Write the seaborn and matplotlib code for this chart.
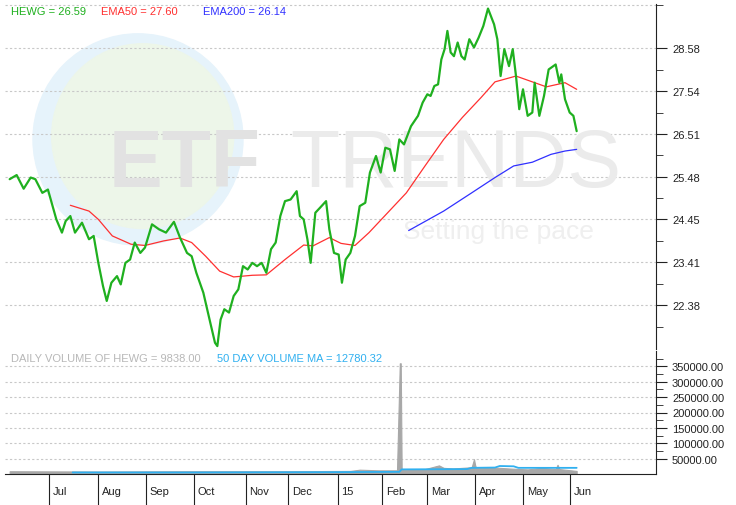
import numpy as np
import matplotlib
matplotlib.use('Agg')
from matplotlib import pyplot as plt
from matplotlib.patches import Ellipse
import seaborn as sns

sns.set_style('white')
plt.rcParams['font.family'] = ['Liberation Sans', 'DejaVu Sans']

# time axis in chart units (month ticks below)
price_t = [10, 25, 40, 55, 65, 80, 92, 100, 110, 122, 130, 140, 150, 165, 180, 190, 200, 210, 218, 228,
           240, 248, 258, 268, 278, 290, 300, 315, 330, 345, 362, 375, 390, 400, 410, 425, 440, 450, 455, 462,
           470, 480, 490, 500, 510, 520, 530, 540, 550, 560, 570, 580, 590, 600, 612, 625, 632, 640, 648, 655,
           665, 675, 688, 695, 705, 715, 722, 730, 740, 750, 760, 772, 782, 795, 805, 815, 825, 835, 845, 855,
           870, 885, 895, 905, 912, 920, 928, 935, 942, 948, 955, 962, 970, 978, 985, 995, 1005, 1015, 1025, 1035,
           1048, 1055, 1062, 1070, 1080, 1088, 1095, 1102, 1110, 1120, 1130, 1135, 1145, 1155, 1165, 1180, 1188, 1192, 1200, 1210,
           1218, 1225]
price = [25.42, 25.52, 25.19, 25.46, 25.42, 25.09, 25.17, 24.85, 24.45, 24.13, 24.41, 24.53, 24.13, 24.37, 23.97, 24.05, 23.40, 22.84, 22.48, 22.92,
         23.08, 22.88, 23.40, 23.48, 23.89, 23.64, 23.77, 24.33, 24.21, 24.13, 24.39, 24.01, 23.64, 23.56, 23.16, 22.68, 21.95, 21.47, 21.39, 22.03,
         22.28, 22.20, 22.60, 22.76, 23.32, 23.24, 23.40, 23.32, 23.40, 23.16, 23.73, 23.89, 24.53, 24.89, 24.93, 25.13, 24.53, 24.45, 23.97, 23.40,
         24.61, 24.73, 24.89, 24.21, 23.64, 23.60, 22.92, 23.48, 23.64, 24.05, 24.77, 24.85, 25.58, 25.98, 25.58, 26.18, 26.14, 25.62, 26.38, 26.26,
         26.70, 26.95, 27.27, 27.47, 27.43, 27.67, 27.71, 28.31, 28.56, 29.00, 28.48, 28.39, 28.72, 28.39, 28.31, 28.80, 28.60, 28.84, 29.12, 29.54,
         29.16, 28.80, 27.91, 28.56, 28.15, 28.56, 27.91, 27.11, 27.59, 26.95, 27.03, 27.75, 26.95, 27.43, 28.07, 28.19, 27.75, 27.95, 27.35, 27.03,
         26.95, 26.58]

ema50_t = [140, 180, 200, 230, 270, 300, 340, 375, 400, 430, 460, 490, 530, 560, 600, 640, 660, 695, 720, 750,
           780, 820, 860, 900, 940, 980, 1020, 1050, 1095, 1130, 1160, 1200, 1225]
ema50 = [24.79, 24.65, 24.45, 24.05, 23.85, 23.82, 23.93, 24.00, 23.89, 23.56, 23.20, 23.06, 23.10, 23.11, 23.48, 23.83, 23.81, 24.01, 23.87, 23.82,
         24.13, 24.61, 25.09, 25.74, 26.38, 26.91, 27.39, 27.77, 27.91, 27.77, 27.65, 27.75, 27.59]

ema200_t = [865, 940, 1000, 1050, 1090, 1130, 1170, 1200, 1225]
ema200 = [24.18, 24.65, 25.09, 25.46, 25.74, 25.83, 26.02, 26.10, 26.14]

vol_t = [10, 200, 400, 600, 740, 760, 800, 840, 846, 848, 850, 856, 900, 930, 940, 960, 1000, 1005, 1008, 1012,
         1040, 1080, 1120, 1150, 1180, 1184, 1188, 1225]
volume = [9000, 8000, 9000, 9000, 10000, 14000, 12000, 12000, 360000, 360000, 15000, 14000, 16000, 28000, 20000, 18000, 22000, 48000, 25000, 20000,
          22000, 18000, 15000, 20000, 16000, 30000, 16000, 10000]
vma_t = [145, 400, 700, 845, 850, 990, 1000, 1050, 1060, 1090, 1100, 1225]
vma = [5000, 5000, 6000, 7000, 15000, 16000, 20000, 21000, 26000, 25000, 20000, 20000]

month_pos = [94, 200, 302, 405, 516, 607, 713, 808, 905, 1008, 1110, 1210]
month_lbl = ['Jul', 'Aug', 'Sep', 'Oct', 'Nov', 'Dec', '15', 'Feb', 'Mar', 'Apr', 'May', 'Jun']
price_ticks = [22.38, 23.41, 24.45, 25.48, 26.51, 27.54, 28.58]
vol_ticks = [50000, 100000, 150000, 200000, 250000, 300000, 350000]

fig = plt.figure(figsize=(7.36, 5.06), dpi=100)
W, H = 736, 506
ax = fig.add_axes([5 / W, 1 - 350 / H, 651 / W, 345 / H])
axv = fig.add_axes([5 / W, 1 - 475 / H, 651 / W, 123 / H], sharex=ax)
grid_kw = dict(color='#c8c8c8', ls=(0, (2, 2)), lw=0.8)

# watermark
ax.add_patch(Ellipse((285, 26.38), 450, 5.1, color='#e6f3fb', zorder=0))
ax.add_patch(Ellipse((295, 26.46), 390, 4.46, color='#edf6e9', zorder=0))
ax.text(222, 25.76, 'ETF', fontsize=58, fontweight='bold', color='#e2e2e2', va='center', zorder=1)
ax.text(612, 25.76, 'TRENDS', fontsize=58, color='#ebebeb', va='center', zorder=1)
ax.text(852, 24.17, 'Setting the pace', fontsize=19, color='#efefef', va='center', zorder=1)

for y in price_ticks:
    ax.axhline(y, zorder=0.5, **grid_kw)
ax.axhline(29.62, zorder=0.5, **grid_kw)
sns.lineplot(x=ema50_t, y=ema50, ax=ax, color='#ff3030', lw=0.9, zorder=3)
sns.lineplot(x=ema200_t, y=ema200, ax=ax, color='#3030ff', lw=0.9, zorder=3)
sns.lineplot(x=price_t, y=price, ax=ax, color='#1fb01f', lw=1.6, zorder=4)
ax.set_xlim(0, 1395)
ax.set_ylim(21.32, 29.65)
ax.yaxis.tick_right()
ax.set_yticks(price_ticks)
ax.set_yticks([(a + b) / 2 for a, b in zip(price_ticks[:-1], price_ticks[1:])] + [29.62, 21.86], minor=True)
ax.tick_params(axis='y', which='major', length=8, labelsize=8, colors='#222222', direction='out')
ax.tick_params(axis='y', which='minor', length=5, color='#222222')
ax.tick_params(axis='x', bottom=False, labelbottom=False)
for s in ['top', 'left', 'bottom']:
    ax.spines[s].set_visible(False)
ax.spines['right'].set_color('#222222')
ax.set_xlabel('')
ax.text(13, 29.4, 'HEWG = 26.59', color='#1fb01f', fontsize=8)
ax.text(206, 29.4, 'EMA50 = 27.60', color='#ff3030', fontsize=8)
ax.text(424, 29.4, 'EMA200 = 26.14', color='#3030ff', fontsize=8)

# volume panel
for y in vol_ticks:
    axv.axhline(y, zorder=0.5, **grid_kw)
axv.fill_between(vol_t, volume, color='#a8a8a8', lw=0.8, zorder=2)
sns.lineplot(x=vma_t, y=vma, ax=axv, color='#30b0f0', lw=1.3, zorder=3)
axv.set_ylim(0, 400000)
axv.yaxis.tick_right()
axv.set_yticks(vol_ticks)
axv.set_yticklabels([f'{v:.2f}' for v in vol_ticks])
axv.set_yticks([25000 + v for v in vol_ticks], minor=True)
axv.tick_params(axis='y', which='major', length=8, labelsize=8, colors='#222222')
axv.tick_params(axis='y', which='minor', length=5, color='#222222')
axv.set_xticks(month_pos)
axv.set_xticklabels([])
axv.tick_params(axis='x', bottom=True, length=22, width=0.8, color='#222222', direction='out')
for p, l in zip(month_pos, month_lbl):
    axv.text(p + 8, -0.1, l, transform=axv.get_xaxis_transform(), fontsize=8, va='top', color='#222222')
axv.spines['top'].set_visible(False)
axv.spines['left'].set_visible(False)
axv.spines['right'].set_color('#222222')
axv.spines['bottom'].set_color('#222222')
axv.set_xlabel('')
axv.text(13, 392000, 'DAILY VOLUME OF HEWG = 9838.00', color='#b8b8b8', fontsize=8, va='top')
axv.text(454, 392000, '50 DAY VOLUME MA = 12780.32', color='#30b0f0', fontsize=8, va='top')

fig.savefig('out.png', dpi=100)
